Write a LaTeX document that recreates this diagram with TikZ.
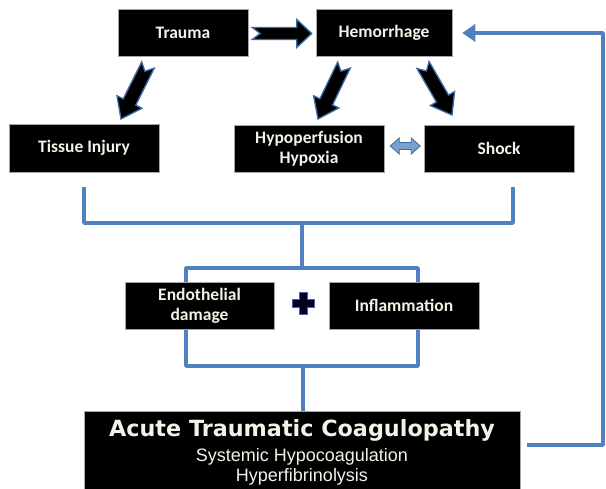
\documentclass[tikz,border=0pt]{standalone}
\usepackage{fontspec}
\setmainfont{Carlito}
\newfontfamily\titlefont{DejaVu Sans}
\newfontfamily\subfont{Liberation Sans}
\usetikzlibrary{arrows.meta,calc}
\pgfdeclarelayer{bg}
\pgfsetlayers{bg,main}
\definecolor{lnblue}{HTML}{4F81BD}
\definecolor{arrblue}{HTML}{3B6BA5}
\definecolor{txt}{HTML}{F4F2E8}
\newcommand\blockarrow[6]{%
  \coordinate (ba-h) at ($(#2)!#5!(#1)$);
  \coordinate (ba-n) at ($(#1)!#6!(#2)$);
  \filldraw[blk] ($(#1)!#3!90:(#2)$) -- ($(ba-h)!#3!90:(#2)$) -- ($(ba-h)!#4!90:(#2)$) -- (#2)
     -- ($(ba-h)!#4!-90:(#2)$) -- ($(ba-h)!#3!-90:(#2)$) -- ($(#1)!#3!-90:(#2)$) -- (ba-n) -- cycle;}
\begin{document}
\begin{tikzpicture}[x=1pt,y=-1pt,
  box/.style={fill=black, draw=gray!70, line width=0.5pt, text=txt,
    font=\bfseries\fontsize{17.5}{20}\selectfont, align=center,
    minimum width=150pt, minimum height=47pt, inner sep=0pt},
  link/.style={draw=lnblue, line width=3.8pt, line join=round},
  blk/.style={fill=black, draw=arrblue, line width=1.3pt, line join=miter}]
\useasboundingbox (0,0) rectangle (606,489);
\begin{pgfonlayer}{bg}
  \fill[white] (0,0) rectangle (606,489);
\end{pgfonlayer}

% boxes
\node[box, minimum width=130pt] (trauma) at (183,32.5) {Trauma};
\node[box, minimum width=136pt] (hem) at (384,32.5) {Hemorrhage};
\node[box, minimum height=48pt] (tissue) at (84,148) {Tissue Injury};
\node[box] (hypo) at (309,148.5) {Hypoperfusion\\Hypoxia};
\node[box] (shock) at (499,148.5) {Shock};
\node[box, minimum width=149pt] (endo) at (199.5,305.5) {Endothelial\\damage};
\node[box] (infl) at (404,305.5) {Inflammation};
\node[box, minimum width=436pt, minimum height=80pt, anchor=north] (atc) at (302,411) {};
\node[anchor=base, text=txt, font=\titlefont\bfseries\fontsize{22.3}{24}\selectfont]
  (atct) at ($(atc.north)+(0,26)$) {Acute Traumatic Coagulopathy};
\node[anchor=base, text=txt, font=\subfont\fontsize{18}{20}\selectfont]
  (atcs1) at ($(atc.north)+(0,51)$) {Systemic Hypocoagulation};
\node[anchor=base, text=txt, font=\subfont\fontsize{18}{20}\selectfont]
  (atcs2) at ($(atc.north)+(0,71)$) {Hyperfibrinolysis};

% block arrows
\coordinate (a0t) at ($(trauma.east)+(4,1)$);
\coordinate (a0h) at ($(hem.west)+(-4,1)$);
\blockarrow{a0t}{a0h}{6pt}{14pt}{15pt}{8pt}
\coordinate (a1t) at (148,65);
\coordinate (a1h) at (121,119);
\blockarrow{a1t}{a1h}{7pt}{14pt}{19pt}{7pt}
\coordinate (a2t) at (344,65);
\coordinate (a2h) at (318,119);
\blockarrow{a2t}{a2h}{7pt}{14pt}{19pt}{7pt}
\coordinate (a3t) at (423,65);
\coordinate (a3h) at (452,115);
\blockarrow{a3t}{a3h}{7pt}{14pt}{19pt}{7pt}

% double arrow between hypoxia and shock
\filldraw[fill=lnblue!75!white, draw=arrblue, line width=0.8pt]
  ($(hypo.east)+(6,-2.5)$) -- ++(9,-8) -- ++(0,4.5) -- ++(12,0) -- ++(0,-4.5) -- ++(9,8)
  -- ++(-9,8) -- ++(0,-4.5) -- ++(-12,0) -- ++(0,4.5) -- cycle;

% plus sign
\coordinate (plus) at (303,304);
\filldraw[fill=black!85!blue, draw=arrblue, line width=1pt]
  ($(plus)+(-4,-11)$) -- ++(8,0) -- ++(0,7) -- ++(7,0) -- ++(0,8) -- ++(-7,0) -- ++(0,7)
  -- ++(-8,0) -- ++(0,-7) -- ++(-7,0) -- ++(0,-8) -- ++(7,0) -- cycle;

% blue connectors
\coordinate (b1) at (84,187);
\coordinate (b2) at (84,223);
\coordinate (b3) at (513,223);
\coordinate (b4) at (513,187);
\coordinate (b5) at (302,223);
\coordinate (b6) at (302,268);
\draw[link] (b1) -- (b2) -- (b3) -- (b4);
\draw[link] (b5) -- (b6);
\begin{pgfonlayer}{bg}
  \draw[link] (186,268) rectangle (418,366);
\end{pgfonlayer}
\coordinate (c1) at (303,366);
\draw[link] (c1) -- (c1 |- atc.north);

\coordinate (r1) at (527,445);
\coordinate (r2) at (603,445);
\coordinate (r3) at (603,33);
\draw[link, -{Triangle[length=13pt,width=17pt]}] (r1) -- (r2) -- (r3) -- ($(hem.east |- r3)+(10,0)$);
\end{tikzpicture}
\end{document}
